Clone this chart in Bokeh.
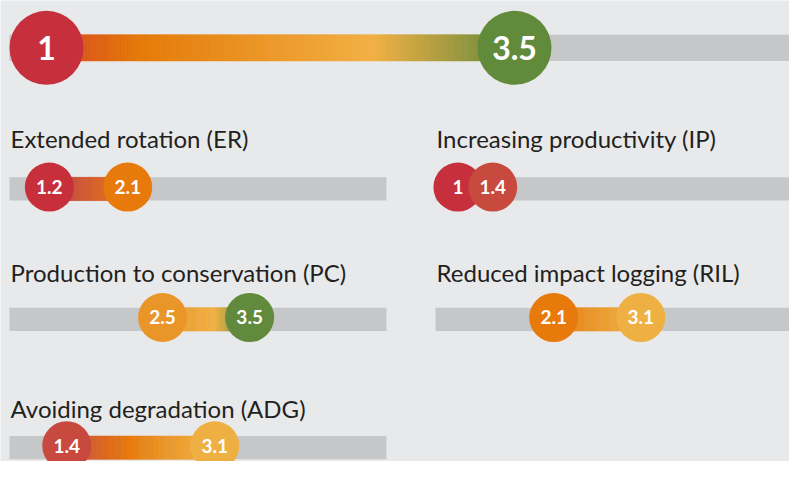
import numpy as np
from bokeh.plotting import figure
from bokeh.models import Range1d, ColumnDataSource, LinearColorMapper
from bokeh.transform import transform
from bokeh.core.properties import value
from bokeh.embed import file_html
from bokeh.resources import INLINE

# ---------------- data ----------------
overall_low = 1.0
overall_high = 3.5
panel_names = ["Extended rotation (ER)", "Increasing productivity (IP)",
               "Production to conservation (PC)", "Reduced impact logging (RIL)",
               "Avoiding degradation (ADG)"]
panel_low = [1.2, 1.0, 2.5, 2.1, 1.4]
panel_high = [2.1, 1.4, 3.5, 3.1, 3.1]
scale_min, scale_max = 1, 5

# ---------------- style / layout ----------------
BG = "#e8e9eb"
GRAY = "#c6c7c9"
FONT = "Lato"
W, H = 789, 461

small_stops_v = [1.0, 1.2, 1.4, 2.1, 2.5, 3.1, 3.5]
small_stops_c = ["#c62f3c", "#c7303b", "#c84a3e", "#e8790b", "#ea9528", "#f2b143", "#618a3c"]
top_stops_v = [1.0, 1.12, 1.5, 2.75, 3.5]
top_stops_c = ["#c62f3c", "#d9521c", "#e57a06", "#f3b043", "#628a3b"]


def make_palette(sv, sc, lo, hi, n=256):
    vs = np.linspace(lo, hi, n)
    rgb = np.array([[int(c[i:i + 2], 16) for i in (1, 3, 5)] for c in sc], float)
    out = []
    for v in vs:
        r, g, b = (np.interp(v, sv, rgb[:, k]) for k in range(3))
        out.append("#%02x%02x%02x" % (int(round(r)), int(round(g)), int(round(b))))
    return out


small_mapper = LinearColorMapper(palette=make_palette(small_stops_v, small_stops_c, 1.0, 3.5),
                                 low=1.0, high=3.5)
top_mapper = LinearColorMapper(palette=make_palette(top_stops_v, top_stops_c, 1.0, 3.5),
                               low=1.0, high=3.5)

# screen scale for the ranges (px per unit, px of value 1 within the frame)
top_unit, top_origin = 187.2, 46.0
small_unit, left_origin, right_origin = 87.1, 31.4, 457.4


def rng(origin, unit):
    s = 1 - origin / unit
    return Range1d(s, s + W / unit)


p = figure(width=W, height=H, output_backend="svg", toolbar_location=None,
           x_range=rng(top_origin, top_unit), y_range=Range1d(477, 0),
           min_border=0, background_fill_color=BG, border_fill_color=BG,
           outline_line_color=None)
p.extra_x_ranges = {"left": rng(left_origin, small_unit), "right": rng(right_origin, small_unit)}
p.xaxis.visible = False
p.yaxis.visible = False
p.grid.visible = False


def gradient(lo, hi, y, h, n):
    e = np.linspace(lo, hi, n + 1)
    return ColumnDataSource(dict(left=e[:-1], right=e[1:], top=[y - h / 2] * n,
                                 bottom=[y + h / 2] * n, v=(e[:-1] + e[1:]) / 2))


def label(v):
    return ("%g" % v)


# ---------------- top overall bar ----------------
top_y, top_h, top_d = 49, 27, 74
p.quad(left=[scale_min - 0.198], right=[scale_max + 0.4], top=[top_y - top_h / 2],
       bottom=[top_y + top_h / 2], fill_color=GRAY, line_color=None)
p.quad(left="left", right="right", top="top", bottom="bottom",
       fill_color=transform("v", top_mapper), line_color=transform("v", top_mapper),
       line_width=0.6, source=gradient(overall_low, overall_high, top_y, top_h, 160))
top_src = ColumnDataSource(dict(x=[overall_low, overall_high], y=[top_y, top_y],
                                t=[label(overall_low), label(overall_high)]))
p.scatter(x="x", y="y", size=top_d, fill_color=transform("x", top_mapper), line_color=None,
          source=top_src)
p.text(x="x", y="y", text="t", text_color="white", text_font=value(FONT),
       text_font_style="bold", text_font_size="32px", text_align="center",
       text_baseline="middle", source=top_src)

# ---------------- panels ----------------
bar_rows_y = [195, 330, 462.7]
title_rows_y = [143, 281.7, 421.7]
bar_h, circ_d = 24, 49
bar_left, bar_right = scale_min - 0.257, scale_max + 0.071

for i, name in enumerate(panel_names):
    rn = "left" if i % 2 == 0 else "right"
    by = bar_rows_y[i // 2]
    ty = title_rows_y[i // 2]
    lo, hi = panel_low[i], panel_high[i]
    p.text(x=[bar_left + 0.012], y=[ty], text=[name], text_color="#231f20",
           text_font=value(FONT), text_font_size="24px", text_align="left",
           text_baseline="alphabetic", x_range_name=rn)
    p.quad(left=[bar_left], right=[bar_right], top=[by - bar_h / 2], bottom=[by + bar_h / 2],
           fill_color=GRAY, line_color=None, x_range_name=rn)
    p.quad(left="left", right="right", top="top", bottom="bottom",
           fill_color=transform("v", small_mapper), line_color=transform("v", small_mapper),
           line_width=0.6, source=gradient(lo, hi, by, bar_h, 80), x_range_name=rn)
    cy = by - 2
    for v in (lo, hi):
        s = ColumnDataSource(dict(x=[v], y=[cy], t=[label(v)]))
        p.scatter(x="x", y="y", size=circ_d, fill_color=transform("x", small_mapper),
                  line_color=None, source=s, x_range_name=rn)
        p.text(x="x", y="y", text="t", text_color="white", text_font=value(FONT),
               text_font_style="bold", text_font_size="19px", text_align="center",
               text_baseline="middle", source=s, x_range_name=rn)

open("out.html", "w").write(file_html(p, INLINE))
